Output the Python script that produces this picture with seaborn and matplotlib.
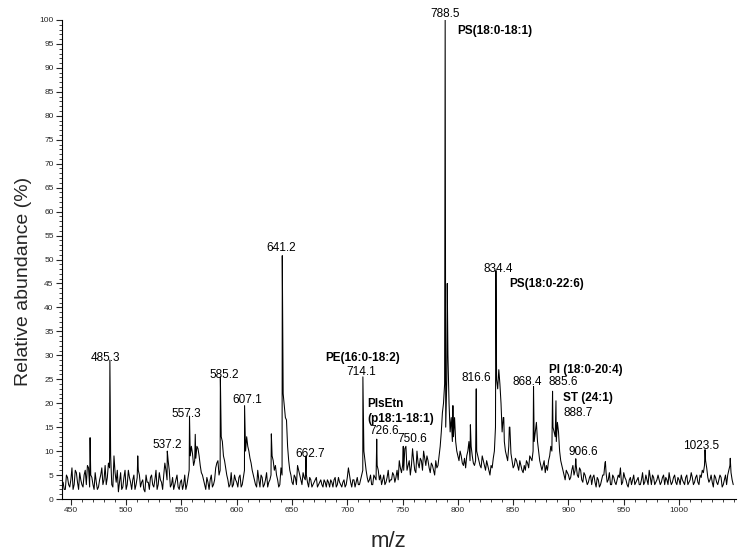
import numpy as np
import pandas as pd
import matplotlib
matplotlib.use("Agg")
import matplotlib.pyplot as plt
from matplotlib.ticker import MultipleLocator
import seaborn as sns

sns.set_theme(style="ticks")
plt.rcParams['font.family'] = ['Liberation Sans', 'DejaVu Sans']

# baseline (noise) at odd m/z, 443 .. 1049
odd_start = 443
baseline_odd = [
    3.5, 2.0, 4.5, 2.5, 6.5, 3.0, 5.5, 2.0, 4.0, 2.5, 6.0, 7.0, 2.5, 4.5, 2.0, 3.5, 2.5, 5.0, 3.0, 7.0,
    4.5, 6.5, 3.0, 9.0, 3.5, 1.5, 5.5, 2.5, 6.0, 3.0, 4.5, 2.0, 5.0, 3.0, 6.0, 2.5, 4.0, 1.5, 3.5, 2.0,
    5.0, 2.5, 6.0, 3.0, 4.0, 2.0, 7.5, 4.0, 6.0, 3.0, 2.0, 4.0, 2.5, 3.5, 2.0, 5.0, 3.0, 6.0, 11.0, 7.0,
    8.5, 10.5, 7.0, 5.0, 3.0, 4.5, 2.0, 5.0, 3.0, 6.5, 8.0, 6.0, 12.0, 8.0, 5.0, 2.5, 5.5, 3.0, 4.0, 2.5,
    5.0, 3.0, 6.0, 13.0, 10.0, 7.5, 5.0, 3.0, 6.0, 2.5, 4.5, 3.0, 5.5, 3.5, 5.0, 8.0, 7.0, 4.0, 3.0, 5.0,
    19.5, 16.5, 8.0, 5.0, 3.0, 4.5, 7.0, 5.0, 3.0, 4.5, 5.0, 2.5, 4.0, 3.0, 4.0, 2.5, 3.5, 3.0, 4.0, 2.5,
    3.5, 4.0, 2.5, 4.5, 3.0, 3.5, 2.5, 4.0, 3.0, 6.5, 3.5, 4.0, 2.5, 4.5, 3.0, 5.0, 10.0, 6.0, 3.5, 5.0,
    3.0, 4.5, 7.0, 4.0, 3.0, 5.0, 3.5, 6.0, 4.0, 5.5, 3.5, 6.0, 8.0, 5.5, 6.0, 11.0, 7.0, 5.0, 10.5, 6.0,
    10.0, 6.5, 8.0, 10.0, 7.0, 8.0, 5.5, 7.0, 5.0, 6.5, 9.0, 14.0, 20.0, 15.0, 30.0, 14.0, 12.0, 17.0, 10.0, 8.0,
    9.0, 7.0, 6.5, 10.0, 8.0, 9.0, 7.0, 10.0, 8.0, 6.5, 8.0, 6.0, 7.0, 5.0, 6.5, 10.0, 25.0, 27.0, 20.0, 17.0,
    10.0, 8.0, 15.0, 8.0, 7.0, 8.0, 6.0, 7.0, 5.5, 6.0, 7.5, 9.0, 8.0, 12.0, 16.0, 10.0, 7.0, 7.0, 5.5, 6.0,
    9.0, 10.0, 14.0, 12.0, 14.0, 8.0, 6.0, 4.0, 5.5, 4.0, 6.0, 5.0, 7.0, 4.5, 6.0, 3.5, 5.0, 3.0, 4.5, 3.0,
    5.0, 2.5, 4.0, 3.0, 5.0, 7.5, 3.5, 5.5, 3.0, 4.5, 3.0, 5.0, 6.5, 3.5, 4.5, 3.0, 4.0, 3.0, 5.0, 3.5,
    4.5, 3.0, 5.5, 3.5, 4.0, 6.0, 3.0, 4.5, 3.5, 5.0, 3.0, 4.5, 3.0, 4.0, 5.5, 3.0, 4.5, 3.5, 4.5, 3.0,
    4.0, 3.0, 5.0, 3.5, 5.5, 3.0, 4.5, 3.5, 5.0, 6.0, 7.0, 6.5, 3.5, 5.0, 2.5, 4.5, 3.0, 5.0, 2.5, 4.0,
    3.0, 6.0, 5.5, 3.0,
]

# baseline (noise) at even m/z, 444 .. 1048
even_start = 444
baseline_even = [
    2.0, 5.0, 3.0, 4.0, 2.0, 6.0, 3.5, 5.5, 3.0, 5.0, 3.0, 6.5, 5.0, 3.0, 5.5, 2.0, 4.0, 6.5, 4.0, 3.0,
    7.5, 9.0, 2.5, 5.5, 6.0, 3.5, 2.0, 4.5, 2.0, 6.0, 3.5, 4.0, 2.0, 4.5, 5.0, 3.5, 2.0, 5.0, 3.5, 4.5,
    3.0, 4.0, 2.0, 5.5, 3.5, 5.0, 6.0, 8.0, 2.5, 4.5, 3.0, 5.0, 2.0, 4.0, 3.0, 2.0, 4.5, 9.0, 9.5, 8.0,
    11.0, 9.0, 5.5, 4.0, 2.0, 3.5, 4.0, 2.5, 4.0, 7.5, 5.0, 13.0, 9.0, 6.5, 4.0, 3.0, 2.5, 5.0, 3.5, 4.5,
    2.5, 4.5, 10.0, 11.0, 8.5, 6.0, 4.0, 2.5, 4.0, 5.0, 2.5, 4.0, 2.5, 4.0, 9.0, 6.0, 5.0, 2.5, 6.5, 22.0,
    17.0, 11.0, 6.0, 3.5, 5.0, 3.0, 6.0, 4.0, 5.5, 4.0, 3.5, 4.5, 2.5, 3.5, 4.5, 3.0, 4.0, 2.5, 3.5, 4.0,
    2.5, 3.5, 4.0, 2.5, 4.5, 3.0, 3.5, 2.5, 4.5, 5.0, 2.5, 4.0, 3.5, 3.0, 4.0, 6.0, 8.0, 4.5, 4.0, 3.0,
    5.0, 4.0, 6.0, 5.0, 4.0, 3.0, 4.5, 3.5, 4.0, 5.0, 4.5, 4.0, 6.5, 7.0, 10.5, 6.0, 8.0, 7.0, 8.0, 5.5,
    7.5, 8.5, 6.0, 8.5, 9.0, 6.5, 7.5, 6.0, 8.0, 7.0, 11.0, 18.0, 24.0, 25.0, 20.0, 17.0, 13.0, 12.0, 9.0, 10.0,
    7.5, 8.5, 9.0, 12.0, 11.0, 7.5, 8.0, 9.0, 7.0, 9.0, 7.0, 8.0, 6.0, 7.0, 8.5, 15.0, 23.0, 24.0, 14.0, 12.0,
    9.0, 11.0, 9.5, 6.5, 8.5, 7.0, 8.0, 6.0, 7.0, 8.0, 6.5, 8.5, 10.0, 14.0, 12.0, 8.0, 6.0, 8.0, 7.0, 8.0,
    11.0, 15.0, 13.0, 16.0, 10.0, 7.0, 5.0, 6.0, 5.0, 4.5, 7.0, 6.0, 5.0, 6.5, 4.0, 5.5, 4.0, 3.5, 5.0, 4.5,
    3.5, 4.5, 2.5, 4.0, 5.0, 5.5, 4.0, 3.0, 5.0, 3.5, 4.0, 4.5, 3.0, 5.5, 4.0, 2.5, 4.5, 4.0, 3.0, 4.0,
    3.0, 4.0, 3.0, 5.0, 3.0, 4.5, 5.0, 3.0, 4.0, 4.0, 3.5, 5.0, 4.5, 3.0, 4.0, 3.5, 5.0, 3.0, 4.0, 5.0,
    3.5, 4.5, 3.0, 4.0, 4.5, 3.5, 5.0, 3.0, 4.5, 5.5, 8.0, 4.5, 4.0, 3.5, 5.0, 3.5, 4.0, 4.5, 3.0, 5.0,
    5.0, 7.0, 4.0,
]

# peak apexes (m/z, relative abundance %)
peak_mz = [467.4, 485.3, 510.5, 537.2, 557.3, 562.5, 585.2, 607.1, 631.3, 641.2,
           662.7, 714.1, 726.6, 750.6, 788.5, 790.4, 795.5, 811.3, 816.6, 834.4,
           841.5, 846.5, 868.4, 885.6, 888.7, 906.6, 933.4, 1023.5, 1046.3]
peak_int = [12.8, 29.0, 9.0, 10.0, 17.3, 13.5, 25.5, 19.5, 13.6, 50.8,
            9.0, 25.5, 12.5, 11.0, 100.0, 45.0, 19.5, 15.5, 23.0, 47.7,
            17.0, 15.0, 23.5, 22.5, 20.5, 8.4, 7.8, 10.3, 8.5]

# annotations: text, x (m/z), y (%), bold, alignment
ann_text = ["788.5", "PS(18:0-18:1)", "641.2", "834.4", "PS(18:0-22:6)", "485.3",
            "585.2", "607.1", "557.3", "537.2", "662.7", "PE(16:0-18:2)", "714.1",
            "PlsEtn", "(p18:1-18:1)", "726.6", "750.6", "816.6", "868.4", "885.6",
            "PI (18:0-20:4)", "ST (24:1)", "888.7", "906.6", "1023.5"]
ann_x = [788.5, 799.3, 640.0, 836.4, 846.4, 481.0,
         588.5, 609.3, 554.0, 536.9, 666.3, 714.3, 712.4,
         717.9, 717.9, 733.3, 758.6, 816.5, 862.7, 895.2,
         882.6, 895.2, 908.8, 913.3, 1020.1]
ann_y = [101.3, 97.7, 52.5, 48.1, 44.8, 29.5,
         25.9, 20.7, 17.8, 11.3, 9.4, 29.5, 26.6,
         19.9, 16.7, 14.2, 12.6, 25.3, 24.5, 24.5,
         27.0, 21.1, 18.0, 9.8, 11.1]
ann_bold = [False, True, False, False, True, False,
            False, False, False, False, False, True, False,
            True, True, False, False, False, False, False,
            True, True, False, False, False]
ann_ha = ["center", "left", "center", "center", "left", "center",
          "center", "center", "center", "center", "center", "center", "center",
          "left", "left", "center", "center", "center", "center", "center",
          "left", "left", "center", "center", "center"]

df = pd.concat([
    pd.DataFrame({"mz": np.arange(len(baseline_odd)) * 2 + odd_start, "intensity": baseline_odd}),
    pd.DataFrame({"mz": np.arange(len(baseline_even)) * 2 + even_start, "intensity": baseline_even}),
    pd.DataFrame({"mz": peak_mz, "intensity": peak_int}),
]).sort_values("mz").reset_index(drop=True)

fig = plt.figure(figsize=(7.44, 5.56), dpi=100)
ax = fig.add_axes([62 / 744, 57 / 556, 674 / 744, 479 / 556])

sns.lineplot(data=df, x="mz", y="intensity", color="black", linewidth=0.75,
             estimator=None, sort=True, ax=ax)

for t, x, y, b, ha in zip(ann_text, ann_x, ann_y, ann_bold, ann_ha):
    ax.text(x, y, t, ha=ha, va="center", fontsize=8.5,
            fontweight="bold" if b else "normal", color="black")

ax.set_xlim(442, 1051.5)
ax.set_ylim(0, 100)
ax.set_xticks(range(450, 1001, 50))
ax.xaxis.set_minor_locator(MultipleLocator(10))
ax.yaxis.set_major_locator(MultipleLocator(5))
ax.yaxis.set_minor_locator(MultipleLocator(1))
ax.tick_params(which="major", direction="out", length=4, width=0.8, labelsize=6, pad=2)
ax.tick_params(which="minor", direction="out", length=2.5, width=0.6)
sns.despine(ax=ax)
for s in ["left", "bottom"]:
    ax.spines[s].set_linewidth(0.8)
    ax.spines[s].set_color("black")

ax.set_xlabel("m/z", fontsize=16)
ax.set_ylabel("Relative abundance (%)", fontsize=14)
ax.xaxis.set_label_coords(0.485, -0.067)
ax.yaxis.set_label_coords(-0.045, 0.455)

fig.savefig("out.png", dpi=100)
